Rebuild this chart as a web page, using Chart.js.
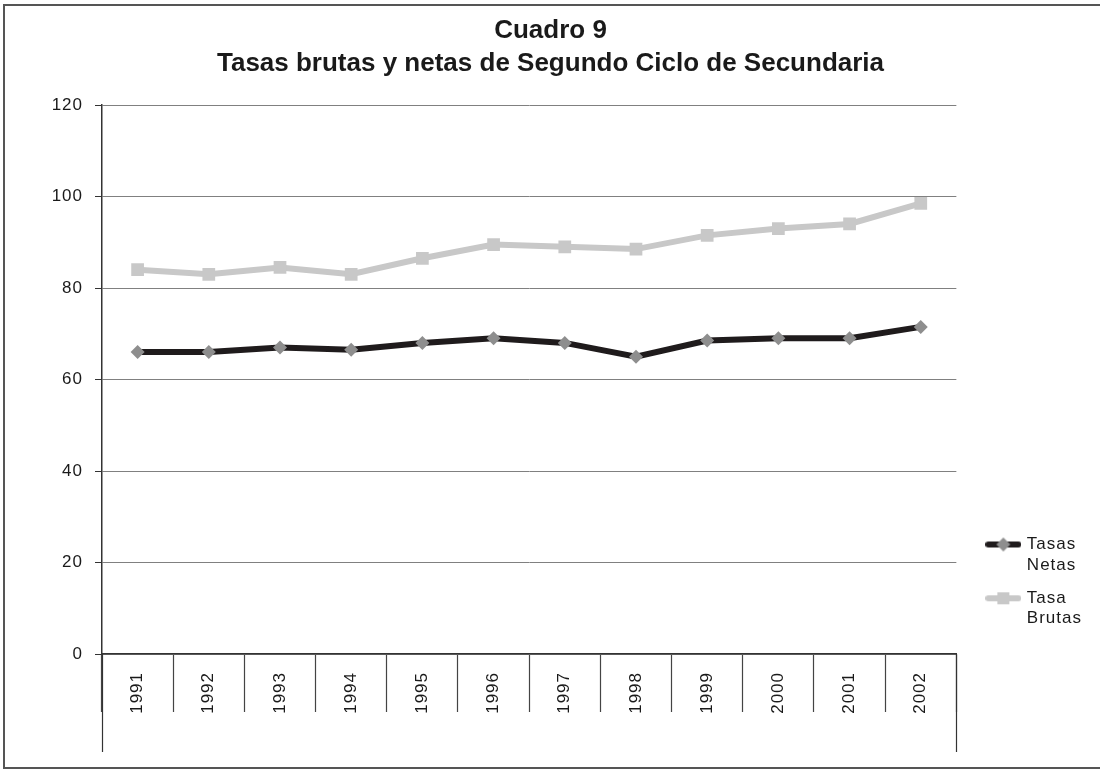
<!DOCTYPE html>
<html>
<head>
<meta charset="utf-8">
<script src="https://cdn.jsdelivr.net/npm/chart.js@4/dist/chart.umd.min.js"></script>
<style>
html,body{margin:0;padding:0;background:#fff;}
#wrap{position:relative;width:1100px;height:770px;}
</style>
</head>
<body>
<div id="wrap"><canvas id="c" width="1100" height="770"></canvas></div>
<script>
const years = ['1991','1992','1993','1994','1995','1996','1997','1998','1999','2000','2001','2002'];
const tasasNetas = [66, 66, 67, 66.5, 68, 69, 68, 65, 68.5, 69, 69, 71.5];
const tasaBrutas = [84, 83, 84.5, 83, 86.5, 89.5, 89, 88.5, 91.5, 93, 94, 98.5];
const yTicks = [0, 20, 40, 60, 80, 100, 120];
const titleLines = ['Cuadro 9', 'Tasas brutas y netas de Segundo Ciclo de Secundaria'];
const seriesNames = [['Tasas', 'Netas'], ['Tasa', 'Brutas']];

const FONT = "'Liberation Sans', Arial, Helvetica, sans-serif";
const NETAS_LINE = '#1f1b1c', NETAS_PT = '#8e8e8e';
const BRUTAS_LINE = '#c8c8c8', BRUTAS_PT = '#c8c8c8';

function makeIcon(lineColor, ptColor, shape) {
  const cv = document.createElement('canvas');
  cv.width = 36; cv.height = 18;
  const g = cv.getContext('2d');
  g.strokeStyle = lineColor; g.lineWidth = 6; g.lineCap = 'round';
  g.beginPath(); g.moveTo(3, 9); g.lineTo(33, 9); g.stroke();
  g.fillStyle = ptColor;
  g.beginPath();
  if (shape === 'diamond') {
    g.moveTo(18, 2); g.lineTo(25, 9); g.lineTo(18, 16); g.lineTo(11, 9); g.closePath();
  } else {
    g.rect(12, 3, 12, 12);
  }
  g.fill();
  return cv;
}
const icons = [makeIcon(NETAS_LINE, NETAS_PT, 'diamond'), makeIcon(BRUTAS_LINE, BRUTAS_PT, 'square')];

const decor = {
  id: 'decor',
  beforeUpdate(chart) { chart.ctx.letterSpacing = '1px'; },
  afterInit(chart) {
    const tb = chart.titleBlock;
    if (tb) {
      const orig = tb.draw.bind(tb);
      tb.draw = function (a) {
        const ctx = this.ctx; const prev = ctx.letterSpacing;
        ctx.save();
        ctx.letterSpacing = '0px';
        ctx.translate(14, 0);
        orig(a);
        ctx.restore();
        ctx.letterSpacing = prev;
      };
    }
  },
  afterLayout(chart) {
    const lg = chart.legend, ca = chart.chartArea;
    if (!lg) return;
    const w = lg.width, h = lg.height;
    lg.left = ca.right + 19; lg.right = lg.left + w;
    lg.top = ca.bottom - 131; lg.bottom = lg.top + h;
  },
  beforeDraw(chart) {
    const ctx = chart.ctx;
    ctx.letterSpacing = '1px';
    ctx.save();
    ctx.fillStyle = '#fff';
    ctx.fillRect(0, 0, chart.width, chart.height);
    ctx.strokeStyle = '#555';
    ctx.lineWidth = 2;
    ctx.strokeRect(4, 5, chart.width + 10, chart.height - 7);
    ctx.restore();
  },
  afterDraw(chart) {
    const ctx = chart.ctx, ca = chart.chartArea, xs = chart.scales.x;
    ctx.save();
    ctx.strokeStyle = '#333';
    ctx.lineWidth = 1.2;
    const yb = xs.bottom;
    [ca.left, ca.right].forEach(x => {
      ctx.beginPath(); ctx.moveTo(Math.round(x) + 0.5, ca.bottom); ctx.lineTo(Math.round(x) + 0.5, yb); ctx.stroke();
    });
    ctx.restore();
  }
};

new Chart(document.getElementById('c'), {
  type: 'line',
  data: {
    labels: years,
    datasets: [
      {
        label: seriesNames[0].join(' '),
        data: tasasNetas,
        borderColor: NETAS_LINE,
        backgroundColor: NETAS_PT,
        borderWidth: 6,
        pointStyle: 'rectRot',
        pointRadius: 7,
        pointBackgroundColor: NETAS_PT,
        pointBorderColor: NETAS_PT,
        pointBorderWidth: 0,
        tension: 0
      },
      {
        label: seriesNames[1].join(' '),
        data: tasaBrutas,
        borderColor: BRUTAS_LINE,
        backgroundColor: BRUTAS_PT,
        borderWidth: 6,
        pointStyle: 'rect',
        pointRadius: 9,
        pointBackgroundColor: BRUTAS_PT,
        pointBorderColor: BRUTAS_PT,
        pointBorderWidth: 0,
        tension: 0
      }
    ]
  },
  options: {
    responsive: false,
    animation: false,
    events: [],
    layout: { padding: { left: 0, right: 27, top: 0, bottom: 18 } },
    plugins: {
      title: {
        display: true,
        text: titleLines,
        color: '#1a1a1a',
        font: { family: FONT, size: 26, weight: 'bold', lineHeight: 1.25 },
        padding: { top: 15, bottom: 25 }
      },
      legend: {
        display: true,
        position: 'right',
        align: 'start',
        labels: {
          usePointStyle: true,
          pointStyleWidth: 30,
          padding: 13,
          color: '#1a1a1a',
          font: { family: FONT, size: 17, lineHeight: 1.2 },
          generateLabels(chart) {
            return chart.data.datasets.map((ds, i) => ({
              text: seriesNames[i],
              pointStyle: icons[i],
              fillStyle: ds.borderColor,
              strokeStyle: ds.borderColor,
              lineWidth: 0,
              hidden: false,
              datasetIndex: i,
              fontColor: '#1a1a1a'
            }));
          }
        }
      },
      tooltip: { enabled: false }
    },
    scales: {
      x: {
        offset: true,
        afterFit(s) { s.height = 98; },
        grid: {
          offset: true,
          drawOnChartArea: false,
          drawTicks: true,
          tickLength: 58,
          tickColor: '#444',
          tickWidth: 1.2
        },
        border: { display: true, color: '#333', width: 1.5 },
        ticks: {
          autoSkip: false,
          maxRotation: 90,
          minRotation: 90,
          padding: -40,
          color: '#1a1a1a',
          font: { family: FONT, size: 17 }
        }
      },
      y: {
        min: 0,
        max: 120,
        afterFit(s) { s.width = 102; },
        afterBuildTicks(s) { s.ticks = yTicks.map(v => ({ value: v })); },
        grid: {
          color: '#808080',
          lineWidth: 1,
          drawTicks: true,
          tickLength: 7,
          tickColor: '#333'
        },
        border: { display: true, color: '#333', width: 1.5 },
        ticks: {
          padding: 12,
          color: '#1a1a1a',
          font: { family: FONT, size: 17 }
        }
      }
    }
  },
  plugins: [decor]
});
</script>
</body>
</html>
